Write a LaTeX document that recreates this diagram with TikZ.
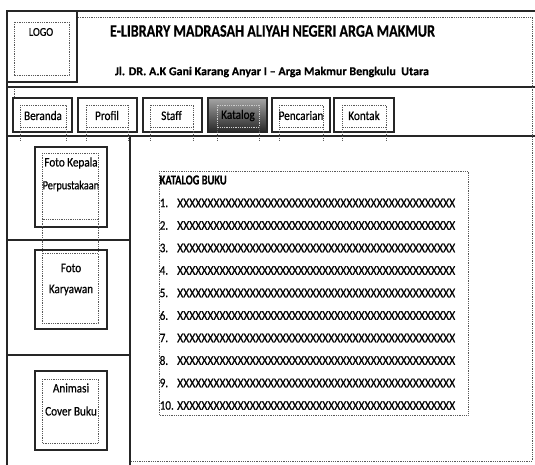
\documentclass[tikz,border=0pt]{standalone}
\usepackage{fontspec}
\setmainfont{Carlito}[FakeBold=0.6,BoldFeatures={FakeBold=0.6}]
\newfontfamily\heavy{Carlito}[FakeBold=0.6]
\newcommand\sqz[1]{\scalebox{0.86}[1]{#1}}
\newcommand\xrow{XXXXXXXXXXXXXXXXXXXXXXXXXXXXXXXXXXXXXXXXXXXXXX}
\begin{document}
\begin{tikzpicture}[x=1pt,y=-1pt,
  solidline/.style={draw=black!85,line width=1.6pt},
  dotline/.style={draw=black!65,line width=0.9pt,dash pattern=on 0.9pt off 0.9pt},
  navtxt/.style={inner sep=0pt,font=\heavy\fontsize{13}{13}\selectfont},
  sidetxt/.style={inner sep=0pt,font=\heavy\fontsize{13}{13}\selectfont},
  numtxt/.style={inner sep=0pt,anchor=west,font=\heavy\fontsize{13}{13}\selectfont},
  xtxt/.style={inner sep=0pt,anchor=west,font=\heavy}]
\useasboundingbox (0,0) rectangle (535,465);
\fill[white] (0,0) rectangle (535,465);

% ---------- frame ----------
\draw[solidline] (7,11) -- (535,11);
\draw[solidline] (7,11) -- (7,465);
\draw[solidline] (7,11) rectangle (77,82);
\draw[solidline] (7,87) -- (535,87);
\draw[solidline] (7,136) -- (535,136);
\draw[dotline] (78,17) -- (532,17) -- (532,461) -- (130,461);

% ---------- header ----------
\draw[dotline] (14,22) rectangle (69,75);
\draw[dotline] (14,89) -- (14,99);
\node[inner sep=0pt] (logo) at (41,32) {\sqz{\heavy\fontsize{12}{12}\selectfont LOGO}};
\node[inner sep=0pt] (title) at (272.5,31) {\resizebox{325pt}{11.5pt}{\bfseries E-LIBRARY MADRASAH ALIYAH NEGERI ARGA MAKMUR}};
\node[inner sep=0pt] (addr) at (272,72) {\resizebox{314pt}{!}{\bfseries Jl. DR. A.K Gani Karang Anyar I -- Arga Makmur Bengkulu\ \ Utara}};

% ---------- navigation ----------
\shade[top color=black!35,bottom color=black!85] (208,98) rectangle (267,132);
\foreach \name/\a/\b/\c/\d/\t in {beranda/13/72/20/66/Beranda, profil/78/137/86/128/Profil, staff/143/202/150/193/Staff, katalog/208/267/217/259/Katalog, pencarian/272/330/279/323/Pencarian, kontak/334/394/342/386/Kontak}{
  \draw[solidline] (\a,98) rectangle (\b,132);
  \draw[dotline] (\c,105) rectangle (\d,127);
  \draw[dotline] (\c,127) -- (\c,141);
  \draw[dotline] (\d,127) -- (\d,141);
  \node[navtxt] (\name) at ({(\c+\d)/2},115.5) {\sqz{\t}};
}
\draw[draw=white!80!black,line width=0.9pt,dash pattern=on 0.9pt off 0.9pt] (217,105) rectangle (259,127);

% ---------- sidebar ----------
\draw[solidline] (130,136) -- (130,465);
\draw[solidline] (7,240) -- (130,240);
\draw[solidline] (7,355) -- (130,355);

\draw[solidline] (35,147) rectangle (107,227);
\draw[dotline] (42,153) rectangle (98,219);
\draw[dotline] (42,219) -- (42,253);
\draw[dotline] (98,219) -- (98,253);
\node[sidetxt] (kepala) at (71,163) {\sqz{Foto Kepala}};
\begin{scope}
  \clip (42,170) rectangle (98.5,200);
  \node[sidetxt,anchor=west,font=\heavy\fontsize{12.5}{13}\selectfont] (perpus) at (42.5,186) {\scalebox{0.82}[1]{Perpustakaan}};
\end{scope}

\draw[solidline] (35,250) rectangle (107,329);
\draw[dotline] (42,253) rectangle (98,323);
\node[sidetxt] (foto) at (71,268) {\sqz{Foto}};
\node[sidetxt] (karyawan) at (71,290) {\sqz{Karyawan}};

\draw[solidline] (35,371) rectangle (107,450);
\draw[dotline] (42,379) rectangle (98,443);
\node[sidetxt] (animasi) at (71,388) {\sqz{Animasi}};
\node[sidetxt] (cover) at (71,411) {\sqz{Cover Buku}};

% ---------- catalogue ----------
\draw[dotline] (159,171) rectangle (468,415);
\node[inner sep=0pt,anchor=west] (kattitle) at (159.5,180) {\resizebox{67pt}{9pt}{\bfseries KATALOG BUKU}};
\foreach \i in {1,...,10}{
  \pgfmathsetmacro\yy{203+22.5*(\i-1)}
  \node[numtxt] (n\i) at (159.5,\yy) {\sqz{\i.}};
  \node[xtxt] (x\i) at (177,\yy) {\resizebox{278pt}{8.5pt}{\xrow}};
}
\end{tikzpicture}
\end{document}
